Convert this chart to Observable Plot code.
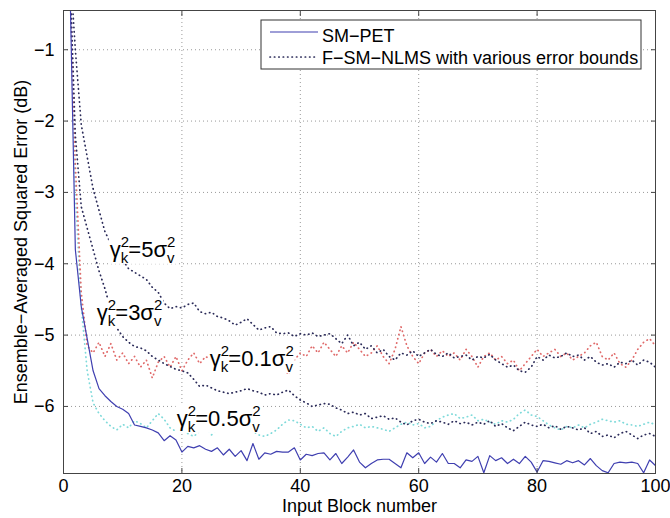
<!DOCTYPE html>
<html><head><meta charset="utf-8">
<script src="https://cdn.jsdelivr.net/npm/d3@7"></script>
<script src="https://cdn.jsdelivr.net/npm/@observablehq/plot@0.6"></script>
<style>body{margin:0;background:#fff;}</style>
</head><body><div id="chart"></div>
<script>
// ---- data (index i -> block number i+1) ----
const smPet = [0.3,-3.8,-4.6,-5.05,-5.5,-5.75,-5.85,-5.93,-6.0,-6.04,
 -6.1,-6.26,-6.28,-6.3,-6.33,-6.37,-6.48,-6.41,-6.47,-6.64,
 -6.56,-6.58,-6.55,-6.6,-6.63,-6.58,-6.68,-6.6,-6.7,-6.62,
 -6.76,-6.52,-6.74,-6.65,-6.67,-6.63,-6.64,-6.64,-6.58,-6.75,
 -6.67,-6.69,-6.66,-6.65,-6.75,-6.66,-6.8,-6.71,-6.61,-6.78,
 -6.86,-6.8,-6.75,-6.74,-6.74,-6.8,-6.86,-6.65,-6.72,-6.65,
 -6.8,-6.71,-6.78,-6.66,-6.8,-6.8,-6.86,-6.75,-6.77,-6.7,
 -6.93,-6.69,-6.76,-6.72,-6.8,-6.74,-6.8,-6.7,-6.78,-6.92,
 -6.76,-6.77,-6.79,-6.81,-6.76,-6.79,-6.76,-6.82,-6.73,-6.83,
 -6.9,-6.93,-6.8,-6.78,-6.79,-6.78,-6.8,-6.93,-6.75,-6.83];
const fsm5 = [0.3,-1.0,-2.05,-2.5,-2.95,-3.25,-3.55,-3.72,-3.85,-3.95,
 -4.07,-4.12,-4.17,-4.22,-4.33,-4.4,-4.55,-4.63,-4.6,-4.62,
 -4.57,-4.55,-4.67,-4.7,-4.68,-4.74,-4.76,-4.8,-4.86,-4.82,
 -4.77,-4.85,-4.93,-4.9,-4.88,-4.97,-4.98,-4.97,-5.02,-4.98,
 -5.0,-4.97,-5.02,-5.0,-4.98,-5.05,-5.12,-5.0,-5.15,-5.1,
 -5.2,-5.15,-5.25,-5.2,-5.3,-5.35,-5.25,-5.28,-5.22,-5.3,
 -5.25,-5.2,-5.27,-5.3,-5.25,-5.32,-5.3,-5.28,-5.35,-5.3,
 -5.32,-5.27,-5.35,-5.4,-5.45,-5.42,-5.5,-5.52,-5.45,-5.3,
 -5.35,-5.28,-5.32,-5.3,-5.25,-5.3,-5.28,-5.35,-5.3,-5.38,
 -5.42,-5.4,-5.45,-5.38,-5.4,-5.35,-5.42,-5.35,-5.38,-5.45];
const fsm3 = [0.3,-2.2,-3.2,-3.5,-3.8,-4.1,-4.35,-4.65,-4.9,-5.02,
 -5.1,-5.16,-5.18,-5.22,-5.3,-5.35,-5.4,-5.44,-5.48,-5.5,
 -5.53,-5.62,-5.72,-5.7,-5.74,-5.78,-5.8,-5.82,-5.8,-5.78,
 -5.75,-5.78,-5.8,-5.84,-5.82,-5.84,-5.8,-5.77,-5.85,-5.91,
 -5.95,-6.0,-5.98,-5.96,-5.97,-6.02,-6.05,-6.1,-6.08,-6.12,
 -6.1,-6.17,-6.15,-6.13,-6.18,-6.16,-6.22,-6.26,-6.2,-6.18,
 -6.22,-6.24,-6.2,-6.22,-6.25,-6.2,-6.24,-6.22,-6.26,-6.22,
 -6.25,-6.2,-6.28,-6.24,-6.3,-6.34,-6.28,-6.22,-6.26,-6.28,
 -6.25,-6.3,-6.27,-6.32,-6.28,-6.3,-6.33,-6.3,-6.38,-6.35,
 -6.42,-6.4,-6.44,-6.38,-6.35,-6.4,-6.45,-6.4,-6.38,-6.42];
const fsm01 = [0.3,-2.6,-4.4,-5.15,-5.25,-5.1,-5.3,-5.12,-5.35,-5.25,
 -5.4,-5.3,-5.45,-5.35,-5.6,-5.38,-5.3,-5.45,-5.3,-5.5,
 -5.35,-5.25,-5.4,-5.3,-5.35,-5.2,-5.3,-5.4,-5.25,-5.35,
 -5.2,-5.3,-5.25,-5.35,-5.2,-5.3,-5.45,-5.55,-5.35,-5.25,
 -5.3,-5.15,-5.25,-5.1,-5.2,-5.3,-5.15,-5.25,-5.1,-5.2,
 -5.3,-5.25,-5.15,-5.3,-5.4,-5.2,-4.88,-5.15,-5.3,-5.4,
 -5.25,-5.2,-5.3,-5.22,-5.3,-5.25,-5.35,-5.2,-5.3,-5.45,
 -5.3,-5.25,-5.35,-5.3,-5.4,-5.35,-5.5,-5.4,-5.3,-5.2,
 -5.3,-5.25,-5.2,-5.3,-5.25,-5.35,-5.3,-5.25,-5.15,-5.1,
 -5.3,-5.35,-5.25,-5.4,-5.45,-5.35,-5.2,-5.1,-5.05,-5.15];
const fsm05 = [0.3,-3.0,-4.6,-5.5,-5.95,-6.1,-6.2,-6.28,-6.33,-6.25,
 -6.3,-6.2,-6.24,-6.3,-6.2,-6.1,-6.18,-6.3,-6.35,-6.3,
 -6.38,-6.42,-6.35,-6.3,-6.4,-6.32,-6.28,-6.35,-6.3,-6.25,
 -6.3,-6.35,-6.4,-6.42,-6.38,-6.33,-6.25,-6.19,-6.2,-6.25,
 -6.3,-6.28,-6.35,-6.3,-6.38,-6.42,-6.35,-6.3,-6.28,-6.25,
 -6.3,-6.28,-6.3,-6.32,-6.35,-6.3,-6.25,-6.22,-6.26,-6.24,
 -6.3,-6.28,-6.2,-6.15,-6.12,-6.1,-6.17,-6.15,-6.12,-6.2,
 -6.18,-6.22,-6.25,-6.2,-6.22,-6.18,-6.1,-6.05,-6.12,-6.14,
 -6.2,-6.26,-6.3,-6.33,-6.28,-6.3,-6.26,-6.3,-6.25,-6.22,
 -6.18,-6.2,-6.22,-6.2,-6.25,-6.26,-6.28,-6.25,-6.22,-6.26];
const xTicks = [0,20,40,60,80,100];
const yTicks = [-1,-2,-3,-4,-5,-6];
const legendNames = ["SM\u2212PET","F\u2212SM\u2212NLMS with various error bounds"];
const xTitle = "Input Block number";
const yTitle = "Ensemble\u2212Averaged Squared Error (dB)";
const annCoef = ["5","3","0.1","0.5"];
const annX = [7.9, 5.7, 24.8, 19.2];
const annY = [-3.91, -4.8, -5.44, -6.28];

// ---- build ----
const rows = arr => arr.map((v,i)=>({block:i+1, value:v}));
const FONT = '"Liberation Sans", Arial, Helvetica, sans-serif';
const cBlue = "#3f3fb0", cDark = "#2a2a58", cRed = "#e06a6a", cCyan = "#7fdada";
const dots = "0.4,4";
const fmt = d => (d < 0 ? "\u2212" : "") + Math.abs(d);
const dotted = c => ({x:"block", y:"value", stroke:c, strokeWidth:1.7, strokeDasharray:dots, strokeLinecap:"round", clip:true});

const chart = Plot.plot({
  width: 670, height: 518,
  marginLeft: 63, marginRight: 15, marginTop: 10, marginBottom: 45,
  style: {fontFamily: FONT, fontSize: "18px", color: "#000", background: "#fff"},
  x: {domain: [0,100]},
  y: {domain: [-6.94,-0.45]},
  marks: [
    Plot.gridX(xTicks.slice(1,-1), {stroke:"#999", strokeOpacity:1, strokeDasharray:"1,3"}),
    Plot.gridY(yTicks, {stroke:"#999", strokeOpacity:1, strokeDasharray:"1,3"}),
    Plot.line(rows(fsm05), dotted(cCyan)),
    Plot.line(rows(fsm01), dotted(cRed)),
    Plot.line(rows(fsm3), dotted(cDark)),
    Plot.line(rows(fsm5), dotted(cDark)),
    Plot.line(rows(smPet), {x:"block", y:"value", stroke:cBlue, strokeWidth:1.2, clip:true}),
    Plot.frame({stroke:"#444"}),
    Plot.axisX({ticks:xTicks, anchor:"bottom", tickSize:-5, tickPadding:11, tickFormat:fmt, label:null, stroke:"#444"}),
    Plot.axisX({ticks:xTicks, anchor:"top", tickSize:-5, tickFormat:()=>"", label:null, stroke:"#444"}),
    Plot.axisY({ticks:yTicks, anchor:"left", tickSize:-5, tickPadding:14, tickFormat:fmt, label:null, stroke:"#444"}),
    Plot.axisY({ticks:yTicks, anchor:"right", tickSize:-5, tickFormat:()=>"", label:null, stroke:"#444"}),
    Plot.text([xTitle], {frameAnchor:"bottom", dy:38.5, fontSize:18, fill:"#000", textAnchor:"middle"}),
    Plot.text([yTitle], {frameAnchor:"left", dx:-42, rotate:-90, fontSize:18, fill:"#000", textAnchor:"middle"})
  ]
});
document.getElementById("chart").appendChild(chart);

const svg = d3.select(chart);
const sx = chart.scale("x"), sy = chart.scale("y");

// annotations with white background
annCoef.forEach((c,i) => {
  const g = svg.append("g").attr("font-family", FONT).attr("fill","#000").attr("text-anchor","start");
  const t = g.append("text").attr("x", sx.apply(annX[i])).attr("y", sy.apply(annY[i])).attr("font-size", 22);
  t.append("tspan").text("\u03b3");
  t.append("tspan").attr("font-size",15).attr("dy",-10).text("2");
  t.append("tspan").attr("font-size",15).attr("dx",-8.3).attr("dy",16).text("k");
  t.append("tspan").attr("dy",-6).text("="+c+"\u03c3");
  t.append("tspan").attr("font-size",15).attr("dy",-10).text("2");
  t.append("tspan").attr("font-size",15).attr("dx",-8.3).attr("dy",16).text("v");
  const bb = t.node().getBBox();
  g.insert("rect","text").attr("x",bb.x-1).attr("y",bb.y+2).attr("width",bb.width+2).attr("height",bb.height-4).attr("fill","#fff");
});

// legend
const lg = svg.append("g").attr("font-family", FONT).attr("font-size", 18).attr("text-anchor","start").attr("fill","#000");
lg.append("rect").attr("x",261).attr("y",20).attr("width",380).attr("height",49).attr("fill","#fff").attr("stroke","#333");
lg.append("line").attr("x1",270).attr("x2",318).attr("y1",32).attr("y2",32).attr("stroke",cBlue).attr("stroke-width",1.2);
lg.append("line").attr("x1",270).attr("x2",318).attr("y1",57).attr("y2",57).attr("stroke",cDark).attr("stroke-width",1.7).attr("stroke-dasharray",dots).attr("stroke-linecap","round");
lg.append("text").attr("x",322).attr("y",42).text(legendNames[0]);
lg.append("text").attr("x",322).attr("y",64).text(legendNames[1]);
</script>
</body></html>
